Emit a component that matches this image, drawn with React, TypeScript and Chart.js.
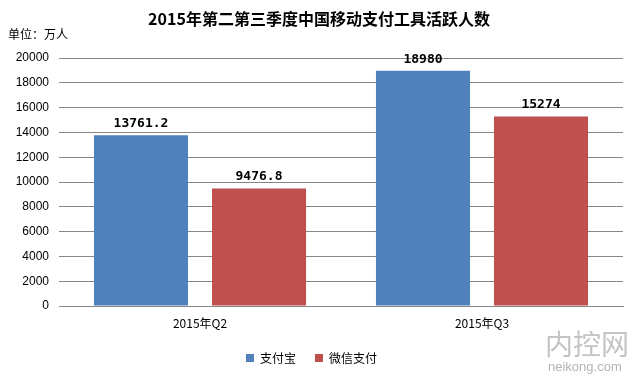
import React, { useEffect, useRef } from "react";
import { Chart, registerables } from "chart.js";

Chart.register(...registerables);

const titleText = "2015年第二第三季度中国移动支付工具活跃人数";
const unitText = "单位：万人";
const categories = ["2015年Q2", "2015年Q3"];
const seriesNames = ["支付宝", "微信支付"];
const alipayValues = [13761.2, 18980];
const wechatValues = [9476.8, 15274];
const valueLabels = [["13761.2", "18980"], ["9476.8", "15274"]];
const yMin = 0;
const yMax = 20000;
const yStep = 2000;
const watermarkMain = "内控网";
const watermarkSub = "neikong.com";

const CJK = '"Noto Sans CJK SC", "Liberation Sans", sans-serif';

const decorPlugin = {
  id: "decor",
  afterDraw(chart: any) {
    const ctx = chart.ctx;
    ctx.save();
    // title
    ctx.fillStyle = "#000";
    ctx.font = `bold 16px ${CJK}`;
    ctx.textAlign = "center";
    ctx.textBaseline = "middle";
    ctx.fillText(titleText, chart.width / 2, 19);
    // unit
    ctx.font = `12px ${CJK}`;
    ctx.textAlign = "left";
    ctx.fillText(unitText, 8, 34);
    // data labels
    ctx.font = 'bold 13px "DejaVu Sans Mono", monospace';
    ctx.textAlign = "center";
    ctx.textBaseline = "bottom";
    chart.data.datasets.forEach((ds: any, di: number) => {
      const meta = chart.getDatasetMeta(di);
      meta.data.forEach((el: any, i: number) => {
        ctx.fillText(valueLabels[di][i], el.x, el.y - 5);
      });
    });
    // watermark
    ctx.fillStyle = "#c4c4c4";
    ctx.font = `28px ${CJK}`;
    ctx.textAlign = "left";
    ctx.textBaseline = "middle";
    ctx.fillText(watermarkMain, 545, 344);
    ctx.fillStyle = "#b4b4b4";
    ctx.font = '13px "Liberation Sans", sans-serif';
    ctx.fillText(watermarkSub, 548, 367);
    ctx.restore();
  },
};

export default function App() {
  const ref = useRef<HTMLCanvasElement>(null);
  useEffect(() => {
    document.body.style.margin = "0";
    const chart = new Chart(ref.current!, {
      type: "bar",
      data: {
        labels: categories,
        datasets: [
          {
            label: seriesNames[0],
            data: alipayValues,
            backgroundColor: "#4F81BD",
            categoryPercentage: 0.837,
            barPercentage: 0.797,
          },
          {
            label: seriesNames[1],
            data: wechatValues,
            backgroundColor: "#C0504D",
            categoryPercentage: 0.837,
            barPercentage: 0.797,
          },
        ],
      },
      options: {
        animation: false,
        responsive: false,
        devicePixelRatio: 1,
        layout: { padding: { top: 58, right: 15, bottom: 2, left: 0 } },
        plugins: {
          title: { display: false },
          tooltip: { enabled: false },
          legend: {
            position: "bottom",
            labels: {
              boxWidth: 8,
              boxHeight: 8,
              padding: 19,
              color: "#000",
              font: { family: CJK, size: 12 },
            },
          },
        },
        scales: {
          x: {
            grid: { display: false, drawTicks: false },
            border: { display: true, color: "#868686", width: 1 },
            ticks: {
              color: "#000",
              font: { family: CJK, size: 12 },
              padding: 10,
            },
            afterFit(scale: any) {
              scale.height = 27;
            },
          },
          y: {
            min: yMin,
            max: yMax,
            grid: { color: "#868686", drawTicks: false },
            border: { display: false },
            ticks: {
              stepSize: yStep,
              color: "#000",
              font: { family: '"Liberation Sans", sans-serif', size: 12 },
              padding: 10,
              callback: (v: any) => String(v),
            },
            afterFit(scale: any) {
              scale.width = 59;
            },
          },
        },
      },
      plugins: [decorPlugin],
    } as any);
    return () => chart.destroy();
  }, []);
  return (
    <div style={{ width: 638, height: 376 }}>
      <canvas ref={ref} width={638} height={376} style={{ width: 638, height: 376, display: "block" }} />
    </div>
  );
}
